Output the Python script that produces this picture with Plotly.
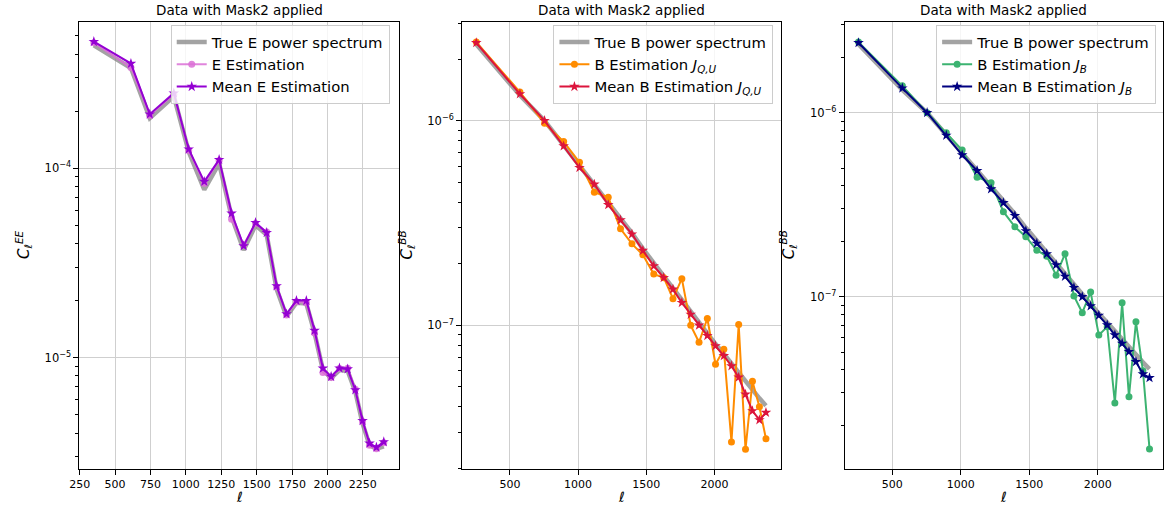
import math
import plotly.graph_objects as go

# ---------------- data ----------------
ell_E = [350, 612, 745, 915, 1020, 1130, 1235, 1323, 1408, 1492, 1571, 1641, 1711,
         1781, 1851, 1909, 1968, 2026, 2085, 2143, 2197, 2248, 2297, 2346, 2398]
true_E = [4.45e-4, 3.38e-4, 1.84e-4, 2.40e-4, 1.22e-4, 7.7e-5, 1.06e-4, 5.55e-5, 3.7e-5,
          5.0e-5, 4.45e-5, 2.3e-5, 1.65e-5, 1.95e-5, 1.93e-5, 1.35e-5, 8.6e-6, 7.8e-6,
          8.6e-6, 8.5e-6, 6.6e-6, 4.5e-6, 3.45e-6, 3.3e-6, 3.4e-6]
est_E = [4.6e-4, 3.40e-4, 1.90e-4, 2.46e-4, 1.24e-4, 8.3e-5, 1.10e-4, 5.37e-5, 3.95e-5,
         5.1e-5, 4.6e-5, 2.36e-5, 1.68e-5, 1.97e-5, 1.95e-5, 1.35e-5, 8.35e-6, 7.85e-6,
         8.75e-6, 8.8e-6, 6.8e-6, 4.6e-6, 3.45e-6, 3.3e-6, 3.55e-6]
mean_E = [4.66e-4, 3.57e-4, 1.93e-4, 2.49e-4, 1.26e-4, 8.5e-5, 1.11e-4, 5.78e-5, 3.89e-5,
          5.16e-5, 4.57e-5, 2.39e-5, 1.70e-5, 2.0e-5, 2.0e-5, 1.39e-5, 8.79e-6, 7.94e-6,
          8.8e-6, 8.7e-6, 6.75e-6, 4.65e-6, 3.53e-6, 3.36e-6, 3.59e-6]

ell_B = [253, 573, 754, 894, 1010, 1119, 1221, 1311, 1395, 1475, 1555, 1628, 1696,
         1761, 1826, 1887, 1948, 2008, 2069, 2125, 2178, 2228, 2279, 2330, 2378]
true_B = [2.36e-6, 1.33e-6, 1.0e-6, 7.6e-7, 6.0e-7, 4.9e-7, 3.95e-7, 3.32e-7, 2.82e-7,
          2.37e-7, 2.0e-7, 1.74e-7, 1.52e-7, 1.33e-7, 1.16e-7, 1.03e-7, 9.1e-8, 8.1e-8,
          7.25e-8, 6.5e-8, 5.85e-8, 5.3e-8, 4.8e-8, 4.4e-8, 4.05e-8]
est_QU = [2.42e-6, 1.38e-6, 9.7e-7, 7.9e-7, 6.26e-7, 4.47e-7, 4.22e-7, 2.96e-7, 2.5e-7,
          2.21e-7, 1.78e-7, 1.71e-7, 1.35e-7, 1.69e-7, 1.0e-7, 8.26e-8, 1.08e-7, 6.45e-8,
          7.63e-8, 2.69e-8, 1.01e-7, 2.48e-8, 5.33e-8, 4.0e-8, 2.79e-8]
mean_QU = [2.40e-6, 1.35e-6, 1.0e-6, 7.52e-7, 5.89e-7, 4.89e-7, 3.88e-7, 3.27e-7, 2.79e-7,
           2.32e-7, 1.95e-7, 1.71e-7, 1.50e-7, 1.29e-7, 1.13e-7, 1.0e-7, 8.9e-8, 7.93e-8,
           7.1e-8, 6.33e-8, 5.57e-8, 4.6e-8, 3.82e-8, 3.45e-8, 3.75e-8]
est_JB = [2.42e-6, 1.40e-6, 1.0e-6, 7.78e-7, 6.27e-7, 4.46e-7, 4.17e-7, 2.9e-7, 2.4e-7,
          2.12e-7, 1.79e-7, 1.66e-7, 1.31e-7, 1.71e-7, 1.01e-7, 8.19e-8, 1.06e-7, 6.19e-8,
          6.87e-8, 2.65e-8, 9.28e-8, 2.86e-8, 7.31e-8, 3.96e-8, 1.49e-8]
mean_JB = [2.40e-6, 1.36e-6, 1.0e-6, 7.53e-7, 5.89e-7, 4.84e-7, 3.85e-7, 3.24e-7, 2.76e-7,
           2.28e-7, 1.95e-7, 1.71e-7, 1.49e-7, 1.29e-7, 1.12e-7, 1.0e-7, 8.9e-8, 7.92e-8,
           7.02e-8, 6.19e-8, 5.58e-8, 5.03e-8, 4.43e-8, 3.8e-8, 3.63e-8]

xticks_E = [250, 500, 750, 1000, 1250, 1500, 1750, 2000, 2250]
xticks_B = [500, 1000, 1500, 2000]
title_text = "Data with Mask2 applied"

# ---------------- layout helpers ----------------
W, H = 1171, 509
FONT = "DejaVu Sans"
GRAY = "rgba(128,128,128,0.72)"

panels = [
    dict(x0=70, x1=392, xr=[248, 2503], yr=[-5.588, -3.228], xt=xticks_E,
         dec=[1e-5, 1e-4], ylab="<i>C</i><sub><i>ℓ</i></sub><sup><i>EE</i></sup>",
         ylx=13),
    dict(x0=456, x1=778, xr=[149, 2491], yr=[-7.702, -5.518], xt=xticks_B,
         dec=[1e-7, 1e-6], ylab="<i>C</i><sub><i>ℓ</i></sub><sup><i>BB</i></sup>",
         ylx=399),
    dict(x0=842, x1=1163, xr=[153, 2477], yr=[-7.936, -5.507], xt=xticks_B,
         dec=[1e-7, 1e-6], ylab="<i>C</i><sub><i>ℓ</i></sub><sup><i>BB</i></sup>",
         ylx=784),
]
y_top, y_bot = 22, 469

fig = go.Figure()

def add(x, y, name, color, ax, leg, symbol=None, width=2, size=7, mode="lines+markers"):
    kw = dict(x=x, y=y, name=name, xaxis="x" + ("" if ax == 1 else str(ax)),
              yaxis="y" + ("" if ax == 1 else str(ax)),
              legend="legend" + ("" if leg == 1 else str(leg)),
              line=dict(color=color, width=width), mode=mode)
    if symbol:
        kw["marker"] = dict(symbol=symbol, size=size, color=color, line=dict(width=0))
    fig.add_trace(go.Scatter(**kw))

add(ell_E, true_E, "True E power spectrum", GRAY, 1, 1, width=4.5, mode="lines")
add(ell_E, est_E, "E Estimation", "rgba(218,112,214,0.85)", 1, 1, symbol="circle", size=7)
add(ell_E, mean_E, "Mean E Estimation", "#9400D3", 1, 1, symbol="star", size=8)

add(ell_B, true_B, "True B power spectrum", GRAY, 2, 2, width=4.5, mode="lines")
add(ell_B, est_QU, "B Estimation <i>J</i><sub><i>Q,U</i></sub>", "#FF8C00", 2, 2,
    symbol="circle", size=7)
add(ell_B, mean_QU, "Mean B Estimation <i>J</i><sub><i>Q,U</i></sub>", "#DC143C", 2, 2,
    symbol="star", size=8)

add(ell_B, true_B, "True B power spectrum", GRAY, 3, 3, width=4.5, mode="lines")
add(ell_B, est_JB, "B Estimation <i>J</i><sub><i>B</i></sub>", "#3CB371", 3, 3,
    symbol="circle", size=7)
add(ell_B, mean_JB, "Mean B Estimation <i>J</i><sub><i>B</i></sub>", "#000080", 3, 3,
    symbol="star", size=8)

layout = dict(width=W, height=H, margin=dict(l=0, r=0, t=0, b=0),
              paper_bgcolor="white", plot_bgcolor="white",
              font=dict(family=FONT, size=11, color="black"), showlegend=True)

annotations = []
ydom = [1 - y_bot / H, 1 - y_top / H]
minor_vals = []
for d in [1e-8, 1e-7, 1e-6, 1e-5, 1e-4, 1e-3]:
    for k in range(2, 10):
        minor_vals.append(k * d)

for i, p in enumerate(panels, start=1):
    sfx = "" if i == 1 else str(i)
    dec = p["dec"]
    layout["xaxis" + sfx] = dict(
        domain=[p["x0"] / W, p["x1"] / W], range=p["xr"], anchor="y" + sfx,
        tickmode="array", tickvals=p["xt"], ticktext=[str(v) for v in p["xt"]],
        ticks="outside", ticklen=5, tickcolor="black", showline=True, mirror=True,
        linecolor="black", linewidth=1, showgrid=True, gridcolor="#cfcfcf", gridwidth=1,
        zeroline=False, tickfont=dict(size=11, family=FONT))
    layout["yaxis" + sfx] = dict(
        domain=ydom, type="log", range=p["yr"], anchor="x" + sfx,
        tickmode="array", tickvals=dec,
        ticktext=["10<sup>−%d</sup>" % round(-math.log10(v)) for v in dec],
        ticks="outside", ticklen=5, tickcolor="black", showline=True, mirror=True,
        linecolor="black", linewidth=1, showgrid=True, gridcolor="#cfcfcf", gridwidth=1,
        zeroline=False, tickfont=dict(size=11.5, family=FONT),
        minor=dict(tickmode="array", tickvals=minor_vals, ticks="outside", ticklen=3,
                   tickcolor="black", showgrid=False))
    cx = (p["x0"] + p["x1"]) / 2 / W
    annotations.append(dict(text=title_text, x=cx, y=1 - 10 / H, xref="paper", yref="paper",
                            showarrow=False, font=dict(size=13.5, family=FONT),
                            xanchor="center", yanchor="middle"))
    annotations.append(dict(text="<i>ℓ</i>", x=cx, y=1 - 497 / H, xref="paper", yref="paper",
                            showarrow=False, font=dict(size=14, family=FONT),
                            xanchor="center", yanchor="middle"))
    annotations.append(dict(text=p["ylab"], x=p["ylx"] / W, y=1 - 245 / H, xref="paper",
                            yref="paper", showarrow=False, textangle=-90,
                            font=dict(size=15, family=FONT),
                            xanchor="center", yanchor="middle"))
    layout["legend" + sfx] = dict(
        x=[383, 770, 1156][i - 1] / W, y=1 - 25 / H, xanchor="right", yanchor="top",
        bgcolor="rgba(255,255,255,0.8)", bordercolor="#cccccc", borderwidth=1,
        font=dict(size=14.8, family=FONT), itemwidth=30, tracegroupgap=0)

layout["annotations"] = annotations
fig.update_layout(**layout)
fig.write_html("out.html")
